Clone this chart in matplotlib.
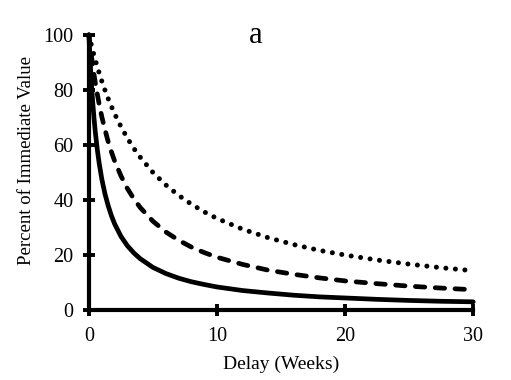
import matplotlib
matplotlib.use("Agg")
import matplotlib.pyplot as plt

# values (percent of immediate value at each delay, weeks)
delay = [0, 0.1, 0.2, 0.3, 0.4, 0.5, 0.65, 0.8, 1, 1.25, 1.5, 1.75, 2, 2.5, 3, 3.5,
         4, 5, 6, 7, 8, 9, 10, 12, 14, 16, 18, 20, 22.5, 25, 27.5, 30]
solid_vals = [100, 90.2, 82.1, 75.4, 69.6, 64.7, 58.5, 53.4, 47.8, 42.3, 38.0, 34.4,
              31.4, 26.8, 23.4, 20.8, 18.7, 15.5, 13.3, 11.6, 10.3, 9.3, 8.4, 7.1,
              6.2, 5.4, 4.8, 4.4, 3.9, 3.5, 3.2, 3.0]
dashed_vals = [100, 96.0, 92.3, 88.8, 85.6, 82.6, 78.6, 74.9, 70.4, 65.6, 61.3, 57.6,
               54.3, 48.8, 44.2, 40.5, 37.3, 32.3, 28.4, 25.4, 22.9, 20.9, 19.2, 16.6,
               14.5, 13.0, 11.7, 10.6, 9.6, 8.7, 8.0, 7.4]
dotted_vals = [100, 98.0, 96.2, 94.3, 92.6, 90.9, 88.5, 86.2, 83.3, 80.0, 76.9, 74.1,
               71.4, 66.7, 62.5, 58.8, 55.6, 50.0, 45.5, 41.7, 38.5, 35.7, 33.3, 29.4,
               26.3, 23.8, 21.7, 20.0, 18.2, 16.7, 15.4, 14.3]

x_ticks = [0, 10, 20, 30]
y_ticks = [0, 20, 40, 60, 80, 100]

plt.rcParams['font.family'] = ['Liberation Serif', 'DejaVu Serif']

fig = plt.figure(figsize=(5.11, 3.8), dpi=100)
ax = fig.add_axes([0.174, 0.184, 0.752, 0.724])

ax.plot(delay, solid_vals, color='black', lw=3.4, solid_capstyle='round',
        solid_joinstyle='round', clip_on=False)
ax.plot(delay, dashed_vals, color='black', lw=3.4, linestyle=(0, (2.0, 2.2)),
        dash_capstyle='round', clip_on=False)
ax.plot(delay, dotted_vals, color='black', lw=3.6, linestyle=(0, (0.01, 1.9)),
        dash_capstyle='round', clip_on=False)

ax.set_xlim(0, 30)
ax.set_ylim(0, 100)
ax.set_xticks(x_ticks)
ax.set_yticks(y_ticks)

for side in ['top', 'right']:
    ax.spines[side].set_visible(False)
for side in ['left', 'bottom']:
    ax.spines[side].set_linewidth(3)
    ax.spines[side].set_capstyle('projecting')

ax.tick_params(direction='inout', length=8, width=2.8, labelsize=14.5)
ax.tick_params(axis='x', pad=8)
ax.tick_params(axis='y', pad=7)

ax.set_xlabel("Delay (Weeks)", fontsize=14, labelpad=7)
ax.set_ylabel("Percent of Immediate Value", fontsize=13.5, va='center')
ax.yaxis.set_label_coords(-0.163, 0.545)
fig.text(0.5, (380 - 43) / 380, "a", ha='center', va='baseline', fontsize=22)

fig.savefig("out.png", dpi=100)
